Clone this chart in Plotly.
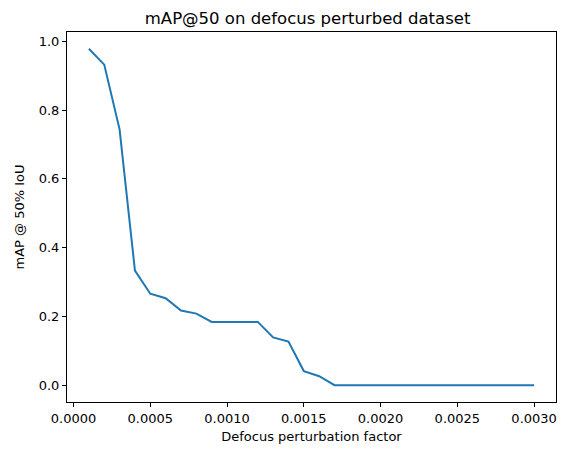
import plotly.graph_objects as go

FONT = "DejaVu Sans, sans-serif"
LINE_BLUE = "#1f77b4"

defocus_factor = [
    0.0001, 0.0002, 0.0003, 0.0004, 0.0005, 0.0006, 0.0007, 0.0008, 0.0009, 0.0010,
    0.0011, 0.0012, 0.0013, 0.0014, 0.0015, 0.0016, 0.0017, 0.0018, 0.0019, 0.0020,
    0.0021, 0.0022, 0.0023, 0.0024, 0.0025, 0.0026, 0.0027, 0.0028, 0.0029, 0.0030,
]
map50 = [
    0.978, 0.932, 0.744, 0.333, 0.266, 0.253, 0.217, 0.208, 0.184, 0.184,
    0.184, 0.184, 0.139, 0.127, 0.041, 0.026, 0.0, 0.0, 0.0, 0.0,
    0.0, 0.0, 0.0, 0.0, 0.0, 0.0, 0.0, 0.0, 0.0, 0.0,
]

fig = go.Figure()
fig.add_trace(
    go.Scatter(
        x=defocus_factor,
        y=map50,
        mode="lines",
        line={"color": LINE_BLUE, "width": 2},
        showlegend=False,
    )
)

axis_common = dict(
    showgrid=False,
    zeroline=False,
    showline=True,
    linecolor="black",
    linewidth=1,
    mirror=True,
    ticks="outside",
    ticklen=4,
    tickwidth=1,
    tickcolor="black",
    tickfont={"size": 13, "color": "black", "family": FONT},
)

# page body keeps an 8px margin, so the figure is 8px smaller and left/top margins shifted
fig.update_layout(
    width=560,
    height=447,
    paper_bgcolor="white",
    plot_bgcolor="white",
    font={"family": FONT, "color": "black"},
    margin={"l": 56, "r": 11, "t": 24, "b": 53},
    title={
        "text": "mAP@50 on defocus perturbed dataset",
        "x": 0.535,
        "xanchor": "center",
        "y": 0.977,
        "yanchor": "middle",
        "font": {"size": 16.5, "color": "black", "family": FONT},
    },
)
fig.update_xaxes(
    **axis_common,
    range=[-0.0000425, 0.0031425],
    tick0=0,
    dtick=0.0005,
    tickformat=".4f",
    title={"text": "Defocus perturbation factor", "font": {"size": 13, "family": FONT}, "standoff": 7},
)
fig.update_yaxes(
    **axis_common,
    range=[-0.0489, 1.0269],
    tick0=0,
    dtick=0.2,
    tickformat=".1f",
    title={"text": "mAP @ 50% IoU", "font": {"size": 13, "family": FONT}, "standoff": 11},
)

fig.write_html("out.html")
